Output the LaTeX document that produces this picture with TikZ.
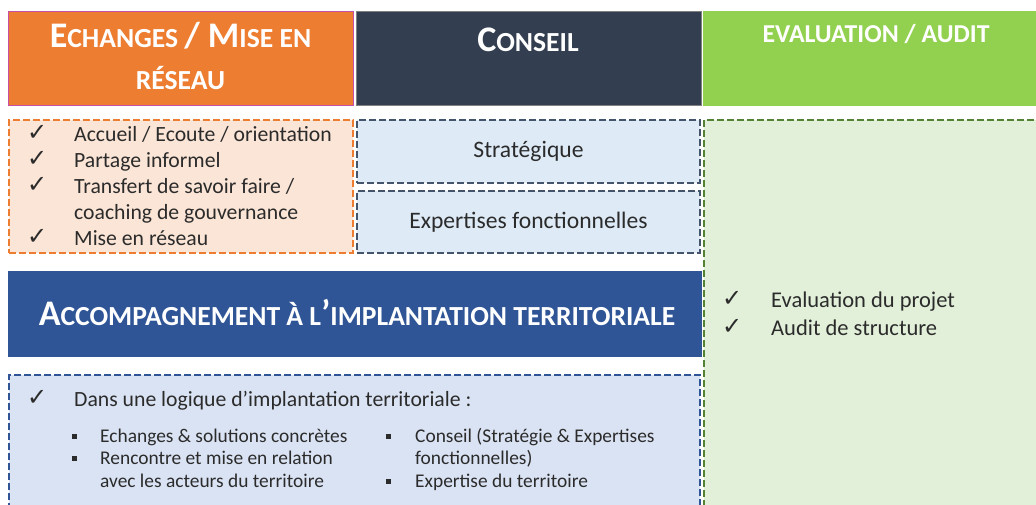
\documentclass[tikz,border=0pt]{standalone}
\usepackage{fontspec}
\setmainfont{Carlito}
\newfontfamily\symfont{DejaVu Sans}
\usetikzlibrary{positioning}

\definecolor{echorange}{HTML}{ED7D31}
\definecolor{echlight}{HTML}{FBE5D6}
\definecolor{echborder}{HTML}{C550A5}
\definecolor{consnavy}{HTML}{333F50}
\definecolor{conslight}{HTML}{DEEBF7}
\definecolor{consdash}{HTML}{44546A}
\definecolor{evalgreen}{HTML}{92D050}
\definecolor{evallight}{HTML}{E2F0D9}
\definecolor{evaldash}{HTML}{548235}
\definecolor{accblue}{HTML}{2F5597}
\definecolor{acclight}{HTML}{DAE3F3}
\definecolor{txtdark}{HTML}{2B2B2B}

% fake small caps for the titles
\newcommand\hdbig{\fontsize{36}{42}\selectfont}
\newcommand\hdsmall{\fontsize{27.6}{42}\selectfont}
\newcommand\ck{\raisebox{1pt}{\symfont\fontsize{24}{24}\selectfont ✓}}
\newcommand\sqb{\rule[3.5pt]{5pt}{5pt}}

\begin{document}
\begin{tikzpicture}[x=1pt, y=-1pt,
  box/.style={anchor=north west, inner sep=0pt, outer sep=0pt},
  head/.style={box, draw=#1, fill=#1, minimum height=94pt},
  dashbox/.style={box, dash pattern=on 7pt off 3pt, line width=1.5pt,
    text=txtdark, font=\fontsize{23.6}{28}\selectfont},
  title/.style={anchor=base, text=white, font=\bfseries\fontsize{36}{42}\selectfont, align=center},
  list/.style={anchor=base west, inner sep=0pt, text=txtdark, font=\fontsize{21.7}{26}\selectfont},
  sublist/.style={list, font=\fontsize{19.4}{22.5}\selectfont}]

\useasboundingbox (0,0) rectangle (1036,505);

% column heads
\node[head=echorange, draw=echborder, minimum width=345pt] (echhead) at (8,11) {};
\node[head=consnavy, draw=gray, minimum width=345pt] (conshead) at (356,11) {};
\node[head=evalgreen, minimum width=340pt] (evalhead) at (703,11) {};

\node[title] (echtitle) at (180.5,90)
  {{\hdbig E}{\hdsmall CHANGES }{\hdbig / M}{\hdsmall ISE EN}\\{\hdsmall RÉSEAU}};
\node[title] (constitle) at (528,52) {{\hdbig C}{\hdsmall ONSEIL}};
\node[title, font=\bfseries\fontsize{25.8}{30}\selectfont] (evaltitle) at (876,43) {EVALUATION / AUDIT};

% dashed content boxes
\node[dashbox, draw=echorange, fill=echlight, minimum width=344pt, minimum height=133pt] (echbox) at (9,120) {};
\node[dashbox, draw=consdash, fill=conslight, minimum width=343pt, minimum height=63pt] (strat) at (357,120) {Stratégique};
\node[dashbox, draw=consdash, fill=conslight, minimum width=343pt, minimum height=62pt, below=8pt of strat] (expert) {Expertises fonctionnelles};
\node[dashbox, draw=evaldash, fill=evallight, minimum width=340pt, minimum height=400pt] (evalbox) at (704,120) {};
\node[dashbox, draw=accblue, fill=acclight, minimum width=691pt, minimum height=150pt] (accbox) at (9,375) {};

% banner
\node[box, fill=accblue, minimum width=694pt, minimum height=86pt] (accbanner) at (8,271) {};
\node[title] (acctitle) at (357,325)
  {{\hdbig A}{\hdsmall CCOMPAGNEMENT À L}{\hdbig ’}{\hdsmall IMPLANTATION TERRITORIALE}};

% lists
\node[list] (echlist) at (27,142) {\begin{tabular}[t]{@{}p{47pt}@{}l@{}}
  \ck & Accueil / Ecoute / orientation\\
  \ck & Partage informel\\
  \ck & Transfert de savoir faire /\\
      & coaching de gouvernance\\
  \ck & Mise en réseau
\end{tabular}};

\node[list, font=\fontsize{22.5}{28}\selectfont] (evallist) at (722,307) {\begin{tabular}[t]{@{}p{49pt}@{}l@{}}
  \ck & Evaluation du projet\\
  \ck & Audit de structure
\end{tabular}};

\node[list] (acclist) at (27,406) {\begin{tabular}[t]{@{}p{47pt}@{}l@{}}
  \ck & Dans une logique d’implantation territoriale :
\end{tabular}};
\node[sublist] (accleft) at (72,442) {\begin{tabular}[t]{@{}p{28pt}@{}l@{}}
  \sqb & Echanges \& solutions concrètes\\
  \sqb & Rencontre et mise en relation\\
       & avec les acteurs du territoire
\end{tabular}};
\node[sublist] (accright) at (386,442) {\begin{tabular}[t]{@{}p{29pt}@{}l@{}}
  \sqb & Conseil (Stratégie \& Expertises\\
       & fonctionnelles)\\
  \sqb & Expertise du territoire
\end{tabular}};

\end{tikzpicture}
\end{document}
